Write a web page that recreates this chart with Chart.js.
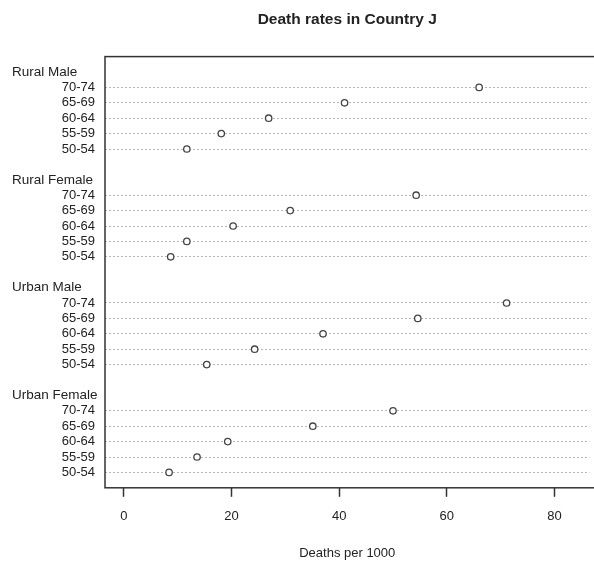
<!DOCTYPE html>
<html>
<head>
<meta charset="utf-8">
<script src="https://cdn.jsdelivr.net/npm/chart.js@4"></script>
<style>
  html, body { margin: 0; padding: 0; background: #fff; }
  #wrap { width: 594px; height: 562px; }
</style>
</head>
<body>
<div id="wrap"><canvas id="deathChart"></canvas></div>
<script>
  // age groups, bottom row first
  const ageGroups = ["50-54", "55-59", "60-64", "65-69", "70-74"];
  const groupNames = ["Urban Female", "Urban Male", "Rural Female", "Rural Male"];

  // deaths per 1000, same order as ageGroups
  const urbanFemale = [8.4, 13.6, 19.3, 35.1, 50.0];
  const urbanMale = [15.4, 24.3, 37.0, 54.6, 71.1];
  const ruralFemale = [8.7, 11.7, 20.3, 30.9, 54.3];
  const ruralMale = [11.7, 18.1, 26.9, 41.0, 66.0];
  const xTicks = [0, 20, 40, 60, 80];

  const seriesList = [urbanFemale, urbanMale, ruralFemale, ruralMale];

  // each group takes 5 rows + header + gap
  const rowLabels = {};
  const groupHeaderRows = [];
  const points = [];
  seriesList.forEach((vals, g) => {
    const base = 1 + g * 7;
    vals.forEach((v, i) => {
      points.push({ x: v, y: base + i });
      rowLabels[base + i] = ageGroups[i];
    });
    groupHeaderRows.push({ row: base + 5, name: groupNames[g] });
  });
  const dataRows = Object.keys(rowLabels).map(Number);

  const textColor = "#222";

  // box round the plot plus the group headers on the left
  const dotchartExtras = {
    id: "dotchartExtras",
    afterDraw(chart) {
      const { ctx, chartArea } = chart;
      const yScale = chart.scales.y;
      ctx.save();
      ctx.strokeStyle = "#333";
      ctx.lineWidth = 1.5;
      ctx.strokeRect(chartArea.left, chartArea.top, chartArea.right - chartArea.left + 10, chartArea.bottom - chartArea.top);
      ctx.fillStyle = textColor;
      ctx.font = "13.5px 'Liberation Sans', Arial, sans-serif";
      ctx.textAlign = "left";
      ctx.textBaseline = "middle";
      groupHeaderRows.forEach(h => {
        ctx.fillText(h.name, 12, yScale.getPixelForValue(h.row));
      });
      ctx.restore();
    }
  };

  new Chart(document.getElementById("deathChart"), {
    type: "scatter",
    data: {
      datasets: [{
        data: points,
        pointRadius: 3.2,
        pointHoverRadius: 3.2,
        pointBorderWidth: 1.3,
        pointBorderColor: "#444",
        pointBackgroundColor: "#fff",
        showLine: false
      }]
    },
    options: {
      responsive: true,
      maintainAspectRatio: false,
      animation: false,
      layout: { padding: { left: 0, right: 0, top: 0, bottom: 0 } },
      plugins: {
        legend: { display: false },
        tooltip: { enabled: false },
        title: {
          display: true,
          text: "Death rates in Country J",
          fullSize: false,
          color: textColor,
          font: { family: "'Liberation Sans', Arial, sans-serif", size: 15.5, weight: "bold" },
          padding: { top: 10, bottom: 28 }
        }
      },
      scales: {
        x: {
          type: "linear",
          min: -3.5,
          max: 86.5,
          afterBuildTicks: scale => { scale.ticks = xTicks.map(v => ({ value: v })); },
          grid: {
            drawOnChartArea: false,
            drawTicks: true,
            tickLength: 9,
            tickColor: "#333",
            tickWidth: 1.5
          },
          border: { display: false },
          ticks: {
            color: textColor,
            padding: 12,
            maxRotation: 0,
            font: { family: "'Liberation Sans', Arial, sans-serif", size: 13 }
          },
          title: {
            display: true,
            text: "Deaths per 1000",
            color: textColor,
            font: { family: "'Liberation Sans', Arial, sans-serif", size: 13 },
            padding: { top: 9, bottom: 1 }
          }
        },
        y: {
          type: "linear",
          min: 0,
          max: 28,
          afterBuildTicks: scale => { scale.ticks = dataRows.map(v => ({ value: v })); },
          afterFit: scale => { scale.width = 105; },
          grid: {
            drawTicks: false,
            color: "#b5b5b5",
            lineWidth: 1
          },
          border: { display: false, dash: [2, 2] },
          ticks: {
            color: textColor,
            padding: 10,
            autoSkip: false,
            font: { family: "'Liberation Sans', Arial, sans-serif", size: 13 },
            callback: v => rowLabels[v] || ""
          }
        }
      }
    },
    plugins: [dotchartExtras]
  });
</script>
</body>
</html>
